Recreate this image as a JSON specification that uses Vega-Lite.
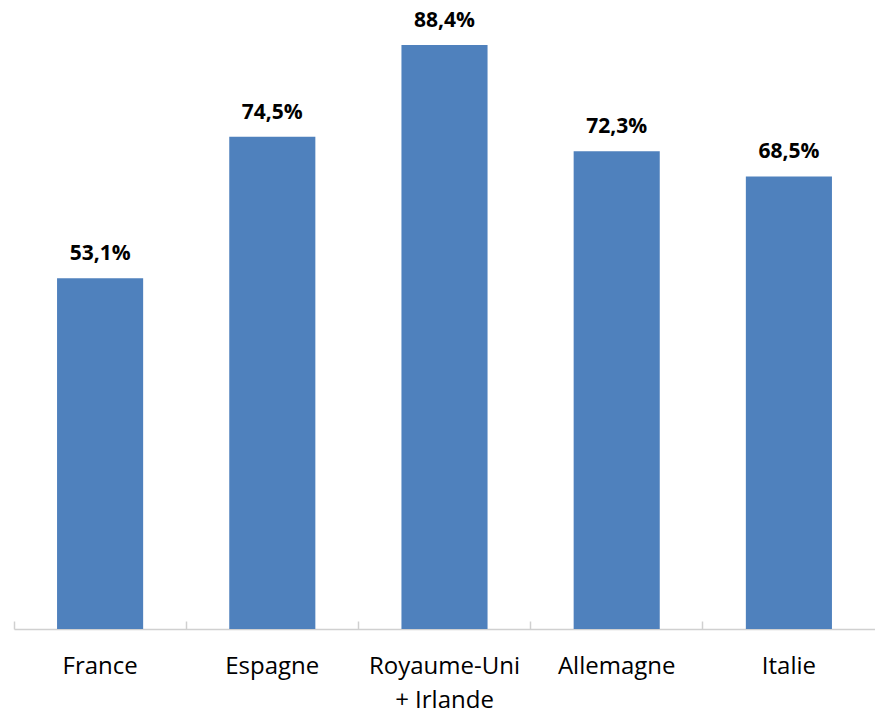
{
  "$schema": "https://vega.github.io/schema/vega-lite/v6.json",
  "width": 861,
  "height": 629,
  "autosize": "none",
  "padding": {"left": 14, "top": 0, "right": 0, "bottom": 82},
  "background": "white",
  "config": {"view": {"stroke": null}, "font": "Open Sans"},
  "data": {
    "values": [
      {"pays": "France", "valeur": 0.531, "txt": "53,1%"},
      {"pays": "Espagne", "valeur": 0.745, "txt": "74,5%"},
      {"pays": "Royaume-Uni|+ Irlande", "valeur": 0.884, "txt": "88,4%"},
      {"pays": "Allemagne", "valeur": 0.723, "txt": "72,3%"},
      {"pays": "Italie", "valeur": 0.685, "txt": "68,5%"}
    ]
  },
  "resolve": {"axis": {"x": "independent"}},
  "layer": [
    {
      "mark": {"type": "bar", "color": "#4F81BD"},
      "encoding": {
        "x": {
          "field": "pays",
          "type": "nominal",
          "sort": null,
          "scale": {"paddingInner": 0.5, "paddingOuter": 0.25},
          "axis": {
            "orient": "bottom",
            "title": null,
            "labelAngle": 0,
            "labelFont": "Open Sans",
            "labelFontSize": 24,
            "labelColor": "#000000",
            "labelPadding": 25,
            "labelLineHeight": 34,
            "labelBaseline": "top",
            "labelExpr": "split(datum.label, '|')",
            "domainColor": "#d0d0d0",
            "domainWidth": 1.5,
            "ticks": false
          }
        },
        "y": {
          "field": "valeur",
          "type": "quantitative",
          "scale": {"domain": [0, 0.952], "nice": false},
          "axis": null
        }
      }
    },
    {
      "mark": {"type": "text", "font": "Open Sans", "fontSize": 21, "fontWeight": "bold", "color": "#000000", "baseline": "alphabetic", "dy": -18},
      "encoding": {
        "x": {
          "field": "pays",
          "type": "nominal",
          "sort": null,
          "axis": {
            "orient": "top",
            "title": null,
            "labels": false,
            "domain": false,
            "offset": -629,
            "tickColor": "#d0d0d0",
            "tickWidth": 1.5,
            "tickSize": 8,
            "bandPosition": -0.5
          }
        },
        "y": {
          "field": "valeur",
          "type": "quantitative",
          "scale": {"domain": [0, 0.952], "nice": false},
          "axis": null
        },
        "text": {"field": "txt"}
      }
    }
  ]
}
